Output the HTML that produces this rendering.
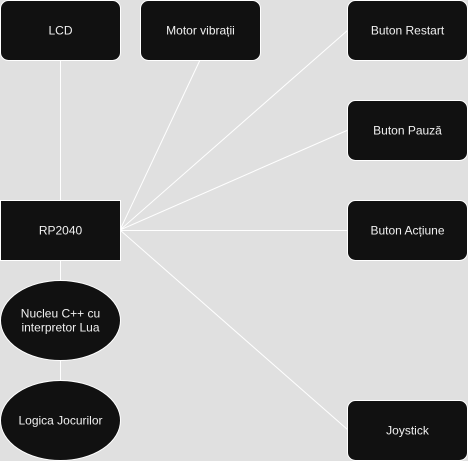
<!DOCTYPE html>
<html><head><meta charset="utf-8"><style>
html,body{margin:0;padding:0;background:#e0e0e0;}
svg{display:block;}
text{font-family:"Liberation Sans",sans-serif;font-size:12px;fill:#f0f0f0;text-anchor:middle;dominant-baseline:central;}
</style></head><body>
<svg width="468" height="461" viewBox="0 0 468 461">
<rect width="468" height="461" fill="#e0e0e0"/>
<g stroke="#ffffff" stroke-width="1" fill="none">
<line x1="60.5" y1="60" x2="60.5" y2="200"/>
<line x1="200" y1="60" x2="120" y2="230"/>
<line x1="348" y1="30" x2="120" y2="230"/>
<line x1="348" y1="130" x2="120" y2="230"/>
<line x1="348" y1="230.5" x2="120" y2="230.5"/>
<line x1="348" y1="430" x2="120" y2="230"/>
<line x1="60.5" y1="260" x2="60.5" y2="281"/>
<line x1="60.5" y1="360" x2="60.5" y2="381"/>
</g>
<g fill="#111111" stroke="#ffffff" stroke-width="1">
<rect x="0.5" y="0.5" width="120" height="60" rx="8"/>
<rect x="140.5" y="0.5" width="120" height="60" rx="8"/>
<rect x="347.5" y="0.5" width="120" height="60" rx="8"/>
<rect x="347.5" y="100.5" width="120" height="60" rx="8"/>
<rect x="347.5" y="200.5" width="120" height="60" rx="8"/>
<rect x="347.5" y="400.5" width="120" height="60" rx="8"/>
<rect x="0.5" y="200.5" width="120" height="60"/>
<ellipse cx="60.5" cy="320.5" rx="60" ry="40"/>
<ellipse cx="60.5" cy="420.5" rx="60" ry="40"/>
</g>
<text x="60.5" y="30.5">LCD</text>
<text x="200.5" y="30.5">Motor vibrații</text>
<text x="407.5" y="30.5">Buton Restart</text>
<text x="407.5" y="130.5">Buton Pauză</text>
<text x="407.5" y="230.5">Buton Acțiune</text>
<text x="407.5" y="430.5">Joystick</text>
<text x="60.5" y="230.5">RP2040</text>
<text x="60.5" y="313.5">Nucleu C++ cu</text>
<text x="60.5" y="327.5">interpretor Lua</text>
<text x="60.5" y="420.5">Logica Jocurilor</text>
</svg>
</body></html>
